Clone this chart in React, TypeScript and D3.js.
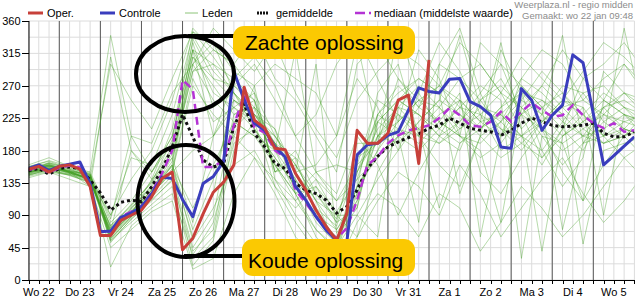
import React from 'react';
import * as d3 from 'd3';

const W = 635;
const H = 300;
const HOUR = 3600e3;
const START = Date.UTC(2014, 0, 22, 6);
const END = Date.UTC(2014, 1, 6, 0);

const dayLabels = ['Wo 22', 'Do 23', 'Vr 24', 'Za 25', 'Zo 26', 'Ma 27', 'Di 28', 'Wo 29', 'Do 30', 'Vr 31', 'Za 1', 'Zo 2', 'Ma 3', 'Di 4', 'Wo 5'];
const yTicks = [0, 45, 90, 135, 180, 225, 270, 315, 360];

// 6-hourly series starting wo 22 jan 06:00
const operValues = [154, 158, 150, 158, 160, 154, 130, 62, 62, 83, 90, 97, 116, 141, 150, 42, 58, 92, 122, 136, 160, 268, 222, 211, 183, 181, 148, 125, 97, 74, 55, 93, 208, 190, 190, 204, 250, 257, 162, 306];
const controleValues = [155, 160, 152, 158, 161, 164, 134, 67, 68, 87, 93, 102, 120, 143, 141, 112, 88, 134, 144, 165, 290, 250, 218, 208, 185, 171, 130, 111, 88, 69, 55, 53, 174, 188, 190, 201, 206, 236, 267, 262, 260, 279, 280, 248, 241, 229, 185, 183, 266, 250, 208, 229, 243, 313, 302, 231, 160, 173, 186, 199];
const gemiddeldeValues = [152, 155, 147, 155, 157, 155, 139, 121, 97, 108, 111, 109, 130, 153, 185, 230, 199, 167, 157, 162, 213, 245, 204, 185, 162, 155, 134, 125, 120, 111, 93, 102, 125, 155, 172, 185, 192, 198, 203, 211, 215, 225, 218, 211, 208, 206, 201, 208, 218, 225, 220, 215, 213, 214, 215, 218, 204, 199, 199, 206];
const mediaanValues = [153, 157, 149, 156, 159, 157, 133, 68, 67, 88, 95, 103, 122, 148, 180, 278, 265, 157, 157, 167, 215, 258, 212, 205, 180, 170, 125, 107, 88, 70, 58, 72, 111, 160, 171, 190, 201, 208, 211, 215, 225, 239, 229, 215, 213, 220, 234, 220, 234, 246, 236, 227, 229, 243, 229, 218, 211, 218, 206, 208];

// ensemble members, 12-hourly starting wo 22 jan 06:00
const leden: number[][] = [
  [150, 156, 149, 140, 62, 95, 120, 150, 320, 200, 250, 230, 200, 160, 110, 70, 120, 200, 220, 250, 240, 210, 230, 260, 240, 200, 190, 110, 250, 230, 210],
  [148, 160, 152, 138, 70, 100, 130, 160, 335, 280, 270, 240, 210, 150, 100, 55, 150, 210, 240, 230, 200, 180, 250, 280, 230, 170, 210, 240, 200, 350, 220],
  [155, 162, 150, 145, 58, 88, 115, 145, 45, 90, 230, 250, 150, 180, 120, 80, 100, 230, 210, 190, 220, 260, 60, 200, 250, 290, 260, 220, 190, 200, 230],
  [152, 150, 146, 135, 75, 105, 135, 180, 300, 330, 260, 220, 180, 120, 70, 40, 120, 180, 250, 280, 260, 120, 200, 220, 270, 240, 210, 180, 230, 260, 240],
  [145, 155, 150, 142, 52, 85, 110, 140, 30, 60, 200, 270, 140, 110, 140, 90, 60, 150, 200, 80, 300, 280, 250, 210, 180, 220, 250, 230, 200, 170, 190],
  [158, 165, 155, 148, 80, 110, 150, 200, 320, 260, 240, 210, 170, 130, 90, 50, 130, 170, 200, 180, 210, 240, 270, 250, 30, 200, 160, 190, 240, 260, 250],
  [150, 158, 150, 130, 310, 180, 140, 170, 290, 300, 280, 250, 180, 320, 150, 160, 150, 200, 190, 220, 250, 230, 210, 240, 280, 260, 230, 200, 210, 230, 220],
  [146, 152, 147, 140, 65, 90, 125, 160, 70, 140, 250, 230, 190, 140, 100, 75, 160, 190, 350, 260, 210, 190, 220, 230, 200, 230, 270, 260, 220, 200, 210],
  [154, 160, 153, 144, 55, 80, 105, 130, 20, 55, 180, 220, 130, 100, 130, 95, 140, 170, 200, 210, 240, 280, 300, 260, 210, 40, 200, 220, 250, 230, 200],
  [149, 157, 151, 139, 90, 170, 160, 230, 340, 290, 260, 230, 210, 120, 130, 80, 190, 190, 280, 250, 220, 200, 180, 80, 240, 270, 240, 210, 190, 210, 240],
  [151, 163, 156, 147, 60, 100, 128, 150, 180, 200, 240, 220, 200, 160, 110, 45, 90, 140, 180, 220, 250, 340, 240, 220, 190, 170, 200, 230, 260, 240, 220],
  [147, 154, 145, 136, 68, 96, 124, 165, 300, 250, 220, 200, 160, 120, 60, 30, 170, 220, 250, 230, 200, 220, 260, 300, 270, 240, 70, 190, 200, 220, 230],
  [156, 159, 150, 150, 340, 200, 150, 190, 310, 270, 230, 240, 190, 150, 160, 200, 330, 200, 230, 200, 190, 210, 240, 230, 200, 180, 220, 260, 270, 240, 210],
  [153, 161, 149, 141, 18, 75, 100, 120, 35, 80, 190, 210, 170, 130, 90, 70, 110, 200, 240, 270, 240, 200, 170, 190, 230, 250, 230, 50, 180, 190, 200],
  [150, 155, 152, 143, 72, 98, 132, 175, 290, 320, 300, 260, 200, 150, 300, 65, 110, 220, 200, 240, 270, 250, 220, 200, 230, 210, 180, 200, 240, 250, 230],
  [157, 166, 158, 146, 63, 92, 140, 210, 330, 240, 260, 230, 190, 170, 140, 110, 140, 230, 260, 280, 260, 230, 200, 170, 190, 220, 250, 240, 90, 230, 220],
  [144, 151, 146, 137, 58, 87, 118, 155, 60, 120, 270, 250, 150, 160, 120, 85, 170, 190, 210, 200, 230, 250, 220, 330, 210, 240, 260, 230, 200, 210, 200],
  [152, 158, 151, 140, 66, 94, 126, 158, 100, 160, 220, 200, 180, 140, 80, 50, 130, 180, 220, 250, 270, 240, 210, 230, 260, 230, 200, 220, 240, 210, 200],
  [148, 156, 150, 139, 76, 102, 138, 185, 310, 280, 250, 220, 190, 150, 110, 90, 90, 60, 240, 210, 190, 220, 250, 270, 240, 210, 190, 210, 230, 220, 210],
  [155, 163, 154, 145, 54, 84, 112, 138, 40, 70, 210, 240, 160, 120, 150, 110, 160, 250, 230, 210, 100, 190, 210, 240, 260, 250, 220, 200, 190, 200, 220],
  [151, 159, 148, 142, 61, 93, 122, 152, 280, 220, 240, 260, 150, 170, 90, 60, 100, 220, 250, 230, 210, 240, 230, 210, 200, 220, 240, 250, 230, 210, 200],
  [146, 153, 147, 138, 69, 180, 150, 200, 320, 300, 260, 210, 160, 110, 70, 45, 150, 230, 270, 240, 220, 200, 190, 220, 250, 230, 340, 190, 220, 240, 230],
  [160, 170, 158, 150, 90, 140, 180, 250, 350, 320, 300, 340, 280, 250, 200, 150, 300, 330, 280, 240, 300, 350, 260, 200, 280, 320, 300, 250, 280, 300, 270],
  [142, 150, 140, 130, 45, 70, 95, 110, 15, 30, 120, 170, 140, 90, 50, 20, 60, 110, 150, 130, 90, 160, 120, 60, 100, 140, 170, 120, 80, 110, 150],
  [150, 158, 152, 146, 85, 200, 190, 260, 300, 350, 320, 290, 330, 260, 210, 170, 250, 290, 320, 300, 270, 330, 300, 260, 310, 280, 250, 290, 330, 310, 280],
  [149, 155, 148, 143, 60, 90, 120, 160, 55, 100, 160, 180, 130, 80, 40, 15, 80, 120, 100, 60, 120, 100, 40, 80, 130, 100, 60, 90, 130, 170, 140],
  [153, 160, 150, 141, 300, 250, 210, 280, 345, 310, 270, 300, 250, 200, 230, 300, 340, 280, 220, 320, 280, 200, 330, 300, 230, 270, 320, 280, 250, 300, 260],
  [147, 156, 149, 139, 67, 95, 125, 170, 80, 200, 280, 310, 270, 200, 150, 120, 200, 160, 90, 150, 200, 250, 150, 120, 170, 210, 150, 110, 160, 200, 170],
  [151, 162, 154, 144, 56, 88, 120, 150, 270, 230, 200, 170, 120, 60, 30, 45, 130, 260, 300, 200, 160, 130, 200, 320, 260, 180, 130, 170, 290, 260, 230],
  [155, 159, 151, 147, 73, 104, 136, 195, 345, 330, 290, 270, 300, 280, 260, 200, 280, 240, 180, 260, 330, 290, 230, 180, 200, 160, 210, 280, 300, 330, 290],
];

const FONT = 'Liberation Sans, Arial, Helvetica, sans-serif';
const RED = '#c7403a';
const BLUE = '#3a3dbd';
const GREEN = '#3f9f1f';
const PURPLE = '#b433d4';
const YELLOW = '#fbc902';

export default function App() {
  const left = 28.5;
  const right = 634.4;
  const top = 21;
  const bottom = 280;
  const x = d3.scaleUtc().domain([new Date(START), new Date(END)]).range([left, right]);
  const y = d3.scaleLinear().domain([0, 360]).range([bottom, top]);

  const line6 = d3.line<number>().x((_, i) => x(new Date(START + i * 6 * HOUR))).y((v) => y(v));
  const line12 = d3.line<number>().x((_, i) => x(new Date(START + i * 12 * HOUR))).y((v) => y(v));

  const sixHours = d3.utcHour.every(6)!.range(new Date(START), new Date(END + 1));
  const midnights = d3.utcDay.range(new Date(START), new Date(END));
  const gridY = d3.range(0, 361, 22.5);
  const noons = dayLabels.map((_, i) => new Date(Date.UTC(2014, 0, 22 + i, 12)));

  return (
    <svg width={W} height={H} style={{ position: 'absolute', left: 0, top: 0, background: '#fff' }} fontFamily={FONT}>
      <defs>
        <clipPath id="plot">
          <rect x={left} y={0} width={right - left} height={bottom + 1} />
        </clipPath>
      </defs>
      <rect width={W} height={H} fill="#fff" />
      {gridY.map((g) => (
        <line key={'gy' + g} x1={left} x2={right} y1={y(g)} y2={y(g)} stroke="#dcdcdc" strokeWidth={1} />
      ))}
      {sixHours.map((t) => (
        <line key={'gx' + +t} x1={x(t)} x2={x(t)} y1={top} y2={bottom} stroke="#dcdcdc" strokeWidth={1} />
      ))}
      {midnights.map((t) => (
        <line key={'gm' + +t} x1={x(t)} x2={x(t)} y1={top} y2={bottom} stroke="#5a5a5a" strokeWidth={1} />
      ))}

      <g clipPath="url(#plot)">
        {leden.map((m, i) => (
          <path key={'m' + i} d={line12(m)!} fill="none" stroke={GREEN} strokeOpacity={0.38} strokeWidth={1} />
        ))}
        <path d={line6(gemiddeldeValues)!} fill="none" stroke="#111" strokeWidth={3} strokeDasharray="3,3" />
        <path d={line6(mediaanValues)!} fill="none" stroke={PURPLE} strokeWidth={2.5} strokeDasharray="8,5" />
        <path d={line6(controleValues)!} fill="none" stroke={BLUE} strokeWidth={3} strokeLinejoin="round" />
        <path d={line6(operValues)!} fill="none" stroke={RED} strokeWidth={3} strokeLinejoin="round" />
      </g>

      <line x1={29} x2={29} y1={top} y2={bottom} stroke="#000" strokeWidth={1} />
      <line x1={left} x2={right} y1={bottom + 0.5} y2={bottom + 0.5} stroke="#000" strokeWidth={1} />
      {yTicks.map((v) => (
        <g key={'yt' + v}>
          <line x1={22} x2={29} y1={Math.round(y(v)) + 0.5} y2={Math.round(y(v)) + 0.5} stroke="#000" />
          <text x={20.5} y={y(v) + 4} textAnchor="end" fontSize={11} fill="#000">{v}</text>
        </g>
      ))}
      {sixHours.map((t) => (
        <line key={'xt' + +t} x1={Math.round(x(t)) + 0.5} x2={Math.round(x(t)) + 0.5} y1={bottom} y2={bottom + 4} stroke="#000" />
      ))}
      {noons.map((t, i) => (
        <text key={'xl' + i} x={x(t)} y={296} textAnchor="middle" fontSize={11} fill="#000">{dayLabels[i]}</text>
      ))}

      <line x1={28} x2={43} y1={13} y2={13} stroke={RED} strokeWidth={3} />
      <text x={47} y={17} fontSize={11}>Oper.</text>
      <line x1={100} x2={115} y1={13} y2={13} stroke={BLUE} strokeWidth={3} />
      <text x={119} y={17} fontSize={11}>Controle</text>
      <line x1={185} x2={198} y1={13} y2={13} stroke={GREEN} strokeOpacity={0.6} strokeWidth={1} />
      <text x={202} y={17} fontSize={11}>Leden</text>
      <line x1={257} x2={268} y1={13} y2={13} stroke="#111" strokeWidth={3} strokeDasharray="2,1" />
      <text x={276} y={17} fontSize={11}>gemiddelde</text>
      <line x1={355} x2={372} y1={13} y2={13} stroke={PURPLE} strokeWidth={2.5} strokeDasharray="10,4,2,4" />
      <text x={374} y={17} fontSize={11}>mediaan (middelste waarde)</text>

      <text x={633} y={8} textAnchor="end" fontSize={9.5} fill="#8c8c8c">Weerplaza.nl - regio midden</text>
      <text x={633} y={18.5} textAnchor="end" fontSize={9.5} fill="#8c8c8c">Gemaakt: wo 22 jan 09:48</text>

      <ellipse cx={185} cy={74} rx={49} ry={38} fill="none" stroke="#000" strokeWidth={4} />
      <line x1={188} x2={240} y1={36} y2={36} stroke="#000" strokeWidth={4} />
      <rect x={233} y={26} width={182} height={33} rx={11} fill={YELLOW} />
      <text x={245} y={50} fontSize={21} fill="#000">Zachte oplossing</text>

      <ellipse cx={186} cy={201} rx={48.5} ry={56} fill="none" stroke="#000" strokeWidth={4} />
      <line x1={184} x2={248} y1={256} y2={256} stroke="#000" strokeWidth={4} />
      <rect x={242} y={239} width={173} height={37} rx={11} fill={YELLOW} />
      <text x={248} y={268} fontSize={21} fill="#000">Koude oplossing</text>
    </svg>
  );
}
